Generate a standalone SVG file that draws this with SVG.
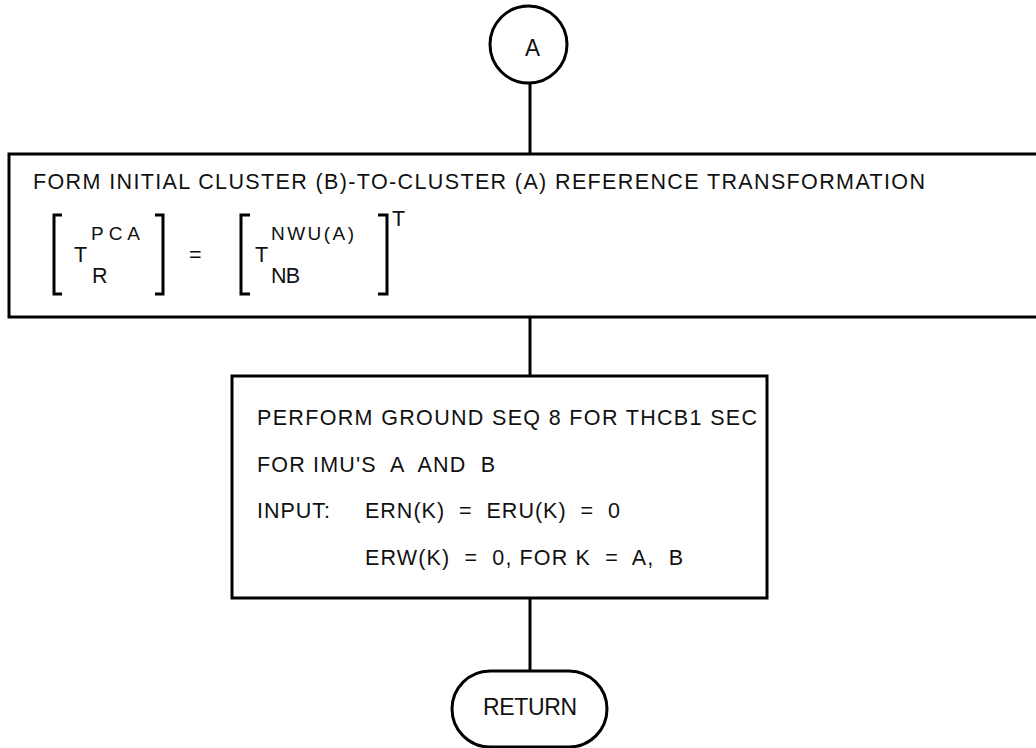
<svg xmlns="http://www.w3.org/2000/svg" width="1036" height="748" viewBox="0 0 1036 748">
<style>
.s{fill:none;stroke:#000;stroke-width:3}
.c{fill:none;stroke:#000;stroke-width:3}
text{font-family:"Liberation Sans",Arial,sans-serif;fill:#111}
.t{font-size:21.5px}
.sm{font-size:19px}
.lb{font-size:23px}
</style>
<rect width="1036" height="748" fill="#fff"/>
<g id="connectors">
<line class="c" x1="530" y1="83" x2="530" y2="154"/>
<line class="c" x1="530" y1="317" x2="530" y2="376"/>
<line class="c" x1="530" y1="598" x2="530" y2="670"/>
</g>
<g id="start">
<circle class="s" cx="528.5" cy="44.5" r="38.5"/>
<text class="lb" x="525" y="56" textLength="15" lengthAdjust="spacingAndGlyphs">A</text>
</g>
<g id="box1">
<rect class="s" x="9" y="154" width="1035" height="163"/>
<text class="t" x="33" y="189" textLength="892" lengthAdjust="spacing">FORM INITIAL CLUSTER (B)-TO-CLUSTER (A) REFERENCE TRANSFORMATION</text>
<path class="s" d="M62,215 H54 V294 H62"/>
<path class="s" d="M155,215 H163 V294 H155"/>
<path class="s" d="M250,215 H241 V294 H250"/>
<path class="s" d="M378,215 H387 V294 H378"/>
<text class="t" x="74" y="262">T</text>
<text class="sm" x="91" y="240" textLength="49" lengthAdjust="spacing">PCA</text>
<text class="t" x="92" y="283">R</text>
<text class="t" x="189" y="262">=</text>
<text class="t" x="255" y="262">T</text>
<text class="sm" x="271" y="240" textLength="83" lengthAdjust="spacing">NWU(A)</text>
<text class="t" x="271" y="283" textLength="29" lengthAdjust="spacing">NB</text>
<text class="t" x="392" y="226">T</text>
</g>
<g id="box2">
<rect class="s" x="232" y="376" width="535" height="222"/>
<text class="t" x="257" y="425" textLength="500" lengthAdjust="spacing">PERFORM GROUND SEQ 8 FOR THCB1 SEC</text>
<text class="t" x="257" y="472" textLength="238" lengthAdjust="spacing" xml:space="preserve">FOR IMU'S  A  AND  B</text>
<text class="t" x="257" y="518" textLength="73" lengthAdjust="spacing">INPUT:</text>
<text class="t" x="365" y="518" textLength="255" lengthAdjust="spacing" xml:space="preserve">ERN(K)  =  ERU(K)  =  0</text>
<text class="t" x="365" y="565" textLength="318" lengthAdjust="spacing" xml:space="preserve">ERW(K)  =  0, FOR K  =  A,  B</text>
</g>
<g id="return">
<rect class="s" x="452" y="671" width="155" height="76" rx="38" ry="38"/>
<text class="lb" x="483" y="715" textLength="94" lengthAdjust="spacing">RETURN</text>
</g>
</svg>
